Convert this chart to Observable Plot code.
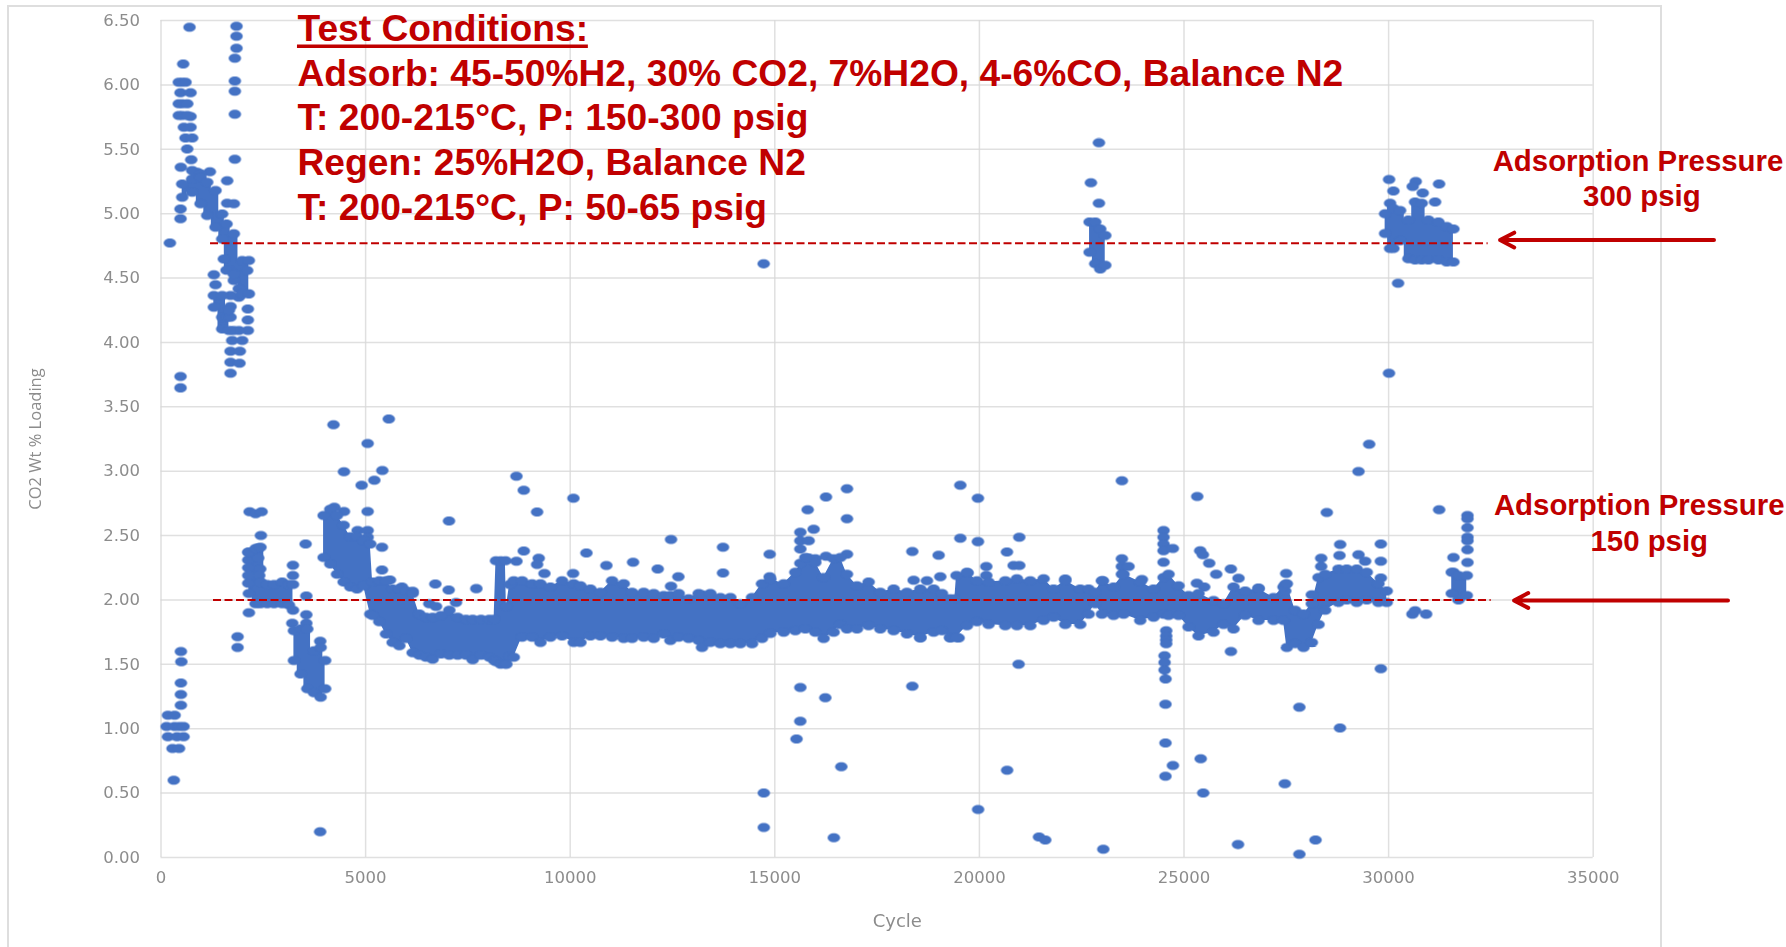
<!DOCTYPE html>
<html><head><meta charset="utf-8">
<script src="https://cdn.jsdelivr.net/npm/d3@7"></script>
<script src="https://cdn.jsdelivr.net/npm/@observablehq/plot@0.6"></script>
<style>
html,body{margin:0;padding:0;background:#fff;overflow:hidden;width:1786px;height:947px}
#frame{position:absolute;left:7px;top:5px;width:1655px;height:1000px;border:2px solid #dedede;box-sizing:border-box}
#chart{position:absolute;left:0;top:0}
</style></head><body>
<div id="frame"></div><div id="chart"></div>
<script>
const xTicks=[0,5000,10000,15000,20000,25000,30000,35000];
const yTicks=[0,0.5,1,1.5,2,2.5,3,3.5,4,4.5,5,5.5,6,6.5];
const xTitle="Cycle", yTitle="CO2 Wt % Loading";
const conditionLines=["Test Conditions:","Adsorb: 45-50%H2, 30% CO2, 7%H2O, 4-6%CO, Balance N2","T: 200-215°C, P: 150-300 psig","Regen: 25%H2O, Balance N2","T: 200-215°C, P: 50-65 psig"];
const conditionLoadings=[6.339,5.995,5.650,5.299,4.952];

// dense regions: [cycle, lowest loading, highest loading]
const bandEarlyFall=[[517,5.128,5.231],[761,5.166,5.27],[965,5.076,5.283],[1128,4.985,5.244],[1331,4.895,5.18],[1494,4.804,4.998],[1600,4.56,4.92],[1779,4.53,4.843],[1983,4.377,4.636],[2146,4.377,4.636]];
const bandEarlyLow=[[1291,4.273,4.364],[1494,4.105,4.364],[1660,4.092,4.25]];
const bandFirstDrop=[[2147,2.05,2.37],[2310,1.97,2.40],[2430,1.97,2.41],[2595,1.97,2.12],[2760,1.97,2.12],[2960,1.97,2.14],[3125,1.96,2.12],[3225,1.92,2.12]];
const bandTrough=[[3248,1.53,1.76],[3410,1.425,1.775],[3574,1.31,1.775],[3737,1.28,1.605],[3900,1.245,1.63],[4010,1.31,1.53]];
const bandSpikeA=[[22692,4.70,4.935],[22830,4.61,4.935],[22952,4.57,4.88],[23075,4.60,4.83]];
const bandHigh=[[29915,4.845,5.0],[30037,4.73,5.08],[30118,4.73,5.04],[30281,4.79,5.025],[30484,4.65,4.95],[30647,4.64,5.09],[30810,4.64,5.08],[30973,4.64,4.95],[31218,4.64,4.935],[31421,4.625,4.90],[31584,4.625,4.88]];
const bandEnd=[[31543,2.05,2.215],[31706,2.0,2.19],[31910,2.035,2.19]];
const bandMain=[[3973,2.33,2.655],[4136,2.28,2.705],[4300,2.20,2.655],[4462,2.14,2.58],[4625,2.10,2.49],[4788,2.085,2.49],[4950,2.11,2.46],[5114,1.89,2.435],[5171,1.88,2.14],[5334,1.83,2.15],[5497,1.735,2.15],[5660,1.67,2.085],[5823,1.645,2.085],[5986,1.70,2.07],[6149,1.59,2.05],[6312,1.57,1.89],[6475,1.555,1.865],[6638,1.54,1.865],[6842,1.58,1.88],[7045,1.57,1.92],[7249,1.57,1.865],[7453,1.57,1.85],[7616,1.535,1.85],[7820,1.57,1.85],[8023,1.555,1.85],[8140,1.53,1.85],[8186,1.52,2.305],[8300,1.50,2.305],[8416,1.50,2.305],[8440,1.50,1.95],[8520,1.56,2.12],[8620,1.555,2.15],[8823,1.71,2.15],[9067,1.71,2.125],[9271,1.67,2.125],[9515,1.71,2.10],[9800,1.72,2.15],[10085,1.67,2.125],[10248,1.67,2.11],[10493,1.72,2.085],[10737,1.72,2.06],[11022,1.71,2.15],[11307,1.70,2.125],[11510,1.70,2.06],[11795,1.71,2.06],[12040,1.70,2.05],[12284,1.735,2.035],[12447,1.685,2.035],[12650,1.71,2.05],[12895,1.70,2.01],[13139,1.685,2.05],[13220,1.63,2.04],[13424,1.67,2.05],[13668,1.66,2.02],[13913,1.66,2.02],[14157,1.66,1.97],[14442,1.66,2.02],[14686,1.70,2.125],[14890,1.74,2.16],[15216,1.75,2.125],[15500,1.76,2.215],[15745,1.775,2.33],[15989,1.75,2.29],[16192,1.70,2.175],[16437,1.75,2.32],[16600,1.81,2.33],[16763,1.775,2.20],[17007,1.775,2.11],[17292,1.80,2.14],[17577,1.775,2.06],[17903,1.76,2.085],[18229,1.735,2.06],[18555,1.71,2.085],[18880,1.75,2.085],[19084,1.76,2.05],[19287,1.71,2.01],[19400,1.71,2.01],[19440,1.71,2.19],[19695,1.80,2.215],[19939,1.83,2.15],[20224,1.81,2.14],[20631,1.80,2.15],[20916,1.80,2.165],[21242,1.80,2.15],[21568,1.84,2.165],[21812,1.865,2.085],[22097,1.81,2.15],[22463,1.81,2.085],[22667,1.89,2.085],[22830,1.97,2.06],[22993,1.89,2.15],[23278,1.88,2.10],[23522,1.89,2.20],[23929,1.84,2.14],[24255,1.865,2.085],[24499,1.89,2.175],[24621,1.88,2.20],[24866,1.88,2.11],[25110,1.79,2.035],[25354,1.72,2.05],[25721,1.75,1.995],[25965,1.81,1.97],[26209,1.775,2.10],[26494,1.88,2.07],[26820,1.84,2.085],[27187,1.84,2.02],[27431,1.84,2.10],[27512,1.63,2.125],[27716,1.66,1.92],[27919,1.63,1.89],[28123,1.67,1.97],[28286,1.81,2.175],[28449,1.92,2.20],[28774,1.98,2.24],[28978,2.0,2.24],[29222,1.98,2.24],[29467,2.0,2.215],[29752,1.98,2.125],[29955,1.98,2.07]];

// separately visible points: [cycle, loading]
const pointsTopLeft=[[216,4.773],[696,6.448],[1844,6.456],[1844,6.378],[1844,6.285],[1804,6.207],[1804,6.031],[1804,5.951],[1804,5.772],[1804,5.423],[1616,5.255],[1193,5.325],[541,6.163],[517,6.021],[435,6.021],[598,6.021],[476,5.938],[720,5.938],[517,5.853],[517,5.762],[720,5.754],[558,5.671],[720,5.671],[598,5.588],[761,5.588],[639,5.503],[737,5.418],[484,5.361],[883,5.322],[761,5.335],[965,5.309],[476,5.037],[476,4.96],[1616,5.081],[1779,5.076],[1291,4.525],[1331,4.447],[2121,4.26],[2121,4.175],[2121,4.092],[1901,4.092],[1779,4.092],[1738,4.015],[1983,4.015],[1698,3.932],[1926,3.932],[1698,3.846],[1917,3.838],[1698,3.761],[1901,4.351],[476,3.735],[476,3.647],[1494,4.196],[1616,4.196],[14727,4.61],[1535,4.648],[1698,4.558],[1779,4.48],[1901,4.416],[2105,4.558],[1698,4.364],[1698,4.278],[1698,4.196],[435,5.853],[435,5.762],[640,5.853],[640,5.762]];
const pointsFirstDrop=[[2131,2.37],[2375,2.404],[2131,2.31],[2375,2.326],[2131,2.25],[2424,2.24],[2131,2.19],[2400,2.19],[2131,2.13],[2440,2.137]];
const pointsLowLeft=[[169,1.105],[332,1.105],[136,1.017],[332,1.017],[450,1.017],[550,1.017],[169,0.937],[390,0.937],[550,0.937],[280,0.846],[440,0.846],[311,0.60],[485,1.60],[496,1.52],[485,1.355],[485,1.265],[485,1.182],[3888,0.20],[2147,1.90],[1870,1.715],[1870,1.63],[2165,2.685],[2310,2.67],[2457,2.685],[2440,2.50],[3223,2.27],[3223,2.19],[3533,2.435],[3550,2.03],[3550,1.885],[3550,1.82],[3207,1.82],[3890,1.68]];
const pointsAboveEarly=[[5049,3.215],[4470,2.995],[4902,2.89],[5212,2.93],[5407,3.005],[4234,2.72],[4470,2.687],[5049,2.687],[4804,2.54],[5049,2.54],[5049,2.487],[5399,2.41],[5399,2.233],[5595,2.155],[5888,2.10],[6149,2.067],[6703,2.124],[7029,2.078],[7037,2.614],[7705,2.088],[7208,1.98],[6556,1.97],[6720,1.95],[4214,3.36],[5566,3.406]];
const pointsAboveMid=[[8685,2.96],[8864,2.852],[9190,2.684],[10077,2.79],[12463,2.47],[8864,2.38],[8685,2.30],[9230,2.324],[9190,2.275],[9369,2.205],[10069,2.205],[10395,2.365],[10883,2.267],[11535,2.293],[12138,2.24],[12642,2.18],[12463,2.106],[13733,2.41],[13733,2.21],[14874,2.355],[14874,2.18],[15802,2.70],[15948,2.55],[16250,2.80],[16250,2.34],[15623,2.526],[15623,2.46],[15826,2.46],[15623,2.396],[15623,2.285],[15826,2.326],[15989,2.32],[16763,2.863],[16763,2.63],[16763,2.355],[18359,2.376],[18392,2.153],[18717,2.15],[19003,2.347],[19043,2.18],[19532,2.89],[19963,2.79],[19532,2.48],[19963,2.453],[20973,2.487],[20672,2.373],[20167,2.26],[20167,2.19],[19711,2.21],[20835,2.267],[20973,2.267],[23481,2.925],[23481,2.32],[23481,2.26],[23644,2.26],[23481,2.2],[23017,2.15],[23970,2.158],[22097,2.163]];
const pointsAboveLate=[[25322,2.803],[24499,2.54],[24499,2.487],[24499,2.435],[24499,2.383],[24499,2.293],[24727,2.40],[25395,2.383],[25460,2.352],[25615,2.285],[25786,2.20],[26144,2.24],[26331,2.168],[25314,2.13],[25493,2.10],[26820,2.093],[27496,2.205],[27472,2.12],[27472,2.07],[28123,2.04],[28351,2.324],[28351,2.26],[28489,2.68],[28815,2.43],[28799,2.345],[29263,2.352],[29426,2.30],[29809,2.435],[29809,2.30],[29809,2.17],[29263,2.997],[29524,3.21],[31234,2.70],[31584,2.33],[31584,2.215],[31926,2.655],[31926,2.63],[31926,2.56],[31926,2.487],[31926,2.46],[31926,2.39],[31926,2.29]];
const pointsBelow=[[15623,1.32],[16233,1.24],[18555,1.705],[19287,1.705],[19491,1.705],[20957,1.50],[18359,1.33],[14730,0.50],[14730,0.233],[15621,1.058],[15530,0.92],[16624,0.704],[16442,0.153],[19967,0.373],[20676,0.678],[21456,0.16],[21608,0.135],[23026,0.065],[24546,1.19],[24546,0.89],[24728,0.714],[24546,0.631],[25407,0.766],[25468,0.50],[26319,0.10],[27463,0.572],[27818,1.167],[27818,0.026],[28213,0.135],[28811,1.006],[26146,1.60],[24564,1.76],[24564,1.72],[24564,1.69],[24564,1.66],[24524,1.567],[24524,1.515],[24524,1.456],[24548,1.386],[29809,1.466],[30582,1.89],[30647,1.917],[30916,1.89]];
const pointsHigh=[[22920,5.55],[22724,5.24],[22920,5.08],[30012,5.265],[30118,5.175],[30664,5.25],[30590,5.21],[30835,5.16],[31234,5.23],[31136,5.09],[30232,4.46],[30010,3.76]];

const dashLevels=[[1198,32420,4.77],[1271,32495,2.0]];
const pressureArrows=[[37952,32723,4.795],[38294,33065,1.996]];
const pressureLabels=[["Adsorption Pressure",36095,5.335],["300 psig",36190,5.063],["Adsorption Pressure",36125,2.656],["150 psig",36370,2.384]];

const blockyBands=[bandEarlyFall,bandEarlyLow,bandFirstDrop,bandTrough,bandSpikeA,bandHigh,bandEnd];
const toRows=(b,i)=>b.map(([x,lo,hi])=>({x,lo,hi,s:i}));
const blockyRows=blockyBands.flatMap(toRows);
const mainRows=toRows(bandMain,99);
const edgePts=[...blockyRows,...mainRows].flatMap(d=>[[d.x,d.lo],[d.x,d.hi]]);
const allPts=[pointsTopLeft,pointsFirstDrop,pointsLowLeft,pointsAboveEarly,pointsAboveMid,pointsAboveLate,pointsBelow,pointsHigh,edgePts].flat();

const blue="#4472c4", red="#c00000", soft="blur(0.5px)";
// wide oval marker, as the stretched picture shows it
const oval={draw(ctx,size){const r=Math.sqrt(size/Math.PI),a=r*1.17,b=r*0.85,k=0.5523;
  ctx.moveTo(a,0);
  ctx.bezierCurveTo(a,b*k,a*k,b,0,b);ctx.bezierCurveTo(-a*k,b,-a,b*k,-a,0);
  ctx.bezierCurveTo(-a,-b*k,-a*k,-b,0,-b);ctx.bezierCurveTo(a*k,-b,a,-b*k,a,0);ctx.closePath();}};

const plot=Plot.plot({
  width:1786,height:947,
  marginLeft:160.5,marginRight:193.3,marginTop:20,marginBottom:90,
  style:{background:"transparent",fontFamily:"'DejaVu Sans'",fontSize:"16px",color:"#8c8c8c"},
  x:{domain:[0,35000],label:null},
  y:{domain:[0,6.5],label:null},
  marks:[
    Plot.gridX(xTicks,{stroke:"#d8d8d8",strokeOpacity:0.8,strokeWidth:1.5,imageFilter:soft}),
    Plot.gridY(yTicks,{stroke:"#d8d8d8",strokeOpacity:0.8,strokeWidth:1.5,imageFilter:soft}),
    Plot.axisX({ticks:xTicks,tickSize:0,tickPadding:14,tickFormat:d=>String(d),label:null,fontSize:16.5,imageFilter:"blur(0.4px)"}),
    Plot.axisY({ticks:yTicks,tickSize:0,tickPadding:21,tickFormat:d=>d.toFixed(2),label:null,fontSize:16.5,imageFilter:"blur(0.4px)"}),
    Plot.text([xTitle],{x:[17993],y:[-0.54],text:d=>d,fontSize:18,lineAnchor:"bottom",imageFilter:"blur(0.4px)"}),
    Plot.text([yTitle],{x:[-2944],y:[3.25],text:d=>d,fontFamily:"'Open Sans'",fontSize:16.5,rotate:-90,lineAnchor:"bottom",imageFilter:"blur(0.4px)"}),
    Plot.areaY(blockyRows,{x:"x",y1:"lo",y2:"hi",z:"s",curve:"step",fill:blue,imageFilter:soft}),
    Plot.areaY(mainRows,{x:"x",y1:"lo",y2:"hi",fill:blue,imageFilter:soft}),
    Plot.dot(allPts,{x:d=>d[0],y:d=>d[1],r:5.3,fill:blue,symbol:oval,imageFilter:soft}),
    Plot.link(dashLevels,{x1:d=>d[0],x2:d=>d[1],y1:d=>d[2],y2:d=>d[2],stroke:red,strokeWidth:2,strokeDasharray:"8 3.5"}),
    Plot.arrow(pressureArrows,{x1:d=>d[0],x2:d=>d[1],y1:d=>d[2],y2:d=>d[2],bend:0,stroke:red,strokeWidth:4,headLength:6,headAngle:55}),
    Plot.text(conditionLines,{x:3335,y:(d,i)=>conditionLoadings[i],text:d=>d,textAnchor:"start",lineAnchor:"bottom",fill:red,fontFamily:"'Liberation Sans'",fontWeight:"bold",fontSize:37.2}),
    Plot.ruleY([6.30],{x1:3335,x2:10444,stroke:red,strokeWidth:3.5}),
    Plot.text(pressureLabels,{x:d=>d[1],y:d=>d[2],text:d=>d[0],lineAnchor:"bottom",fill:red,fontFamily:"'Liberation Sans'",fontWeight:"bold",fontSize:29.4})
  ]
});
document.getElementById("chart").appendChild(plot);
</script></body></html>
